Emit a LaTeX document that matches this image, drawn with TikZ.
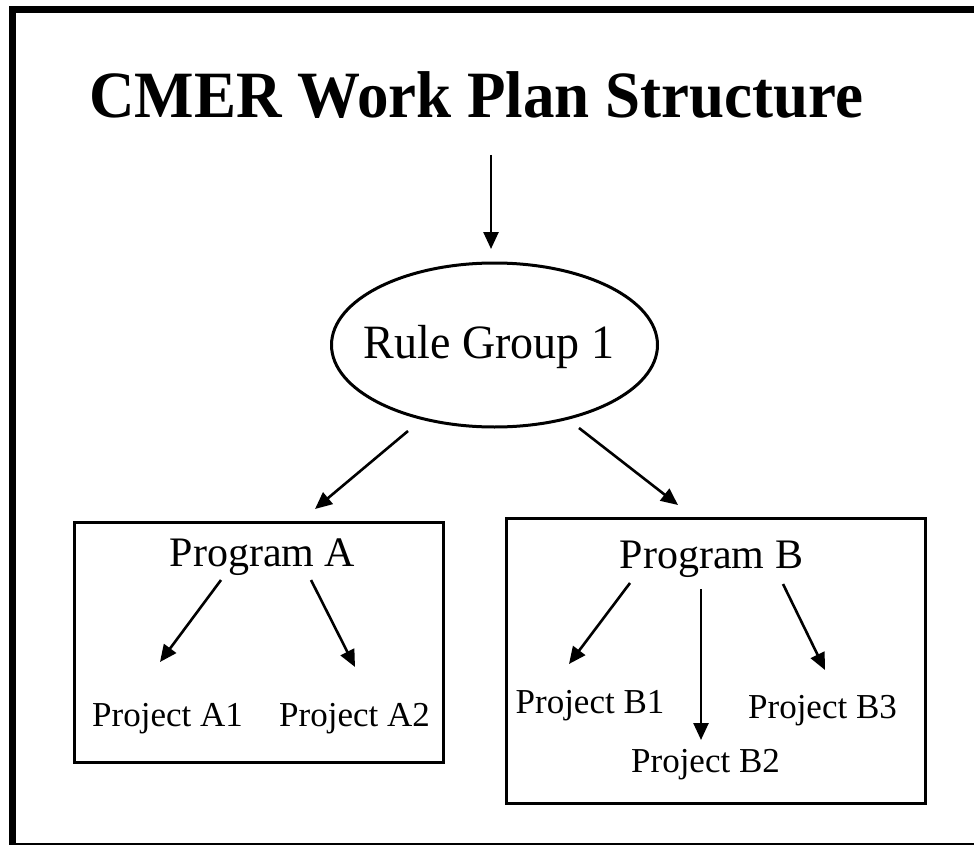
\documentclass[tikz,border=0pt]{standalone}
\usepackage{fontspec}
\setmainfont{Liberation Serif}
\usetikzlibrary{arrows.meta,shapes.geometric}
\tikzset{
  conn/.style={line width=2.6pt,-{Triangle[length=17pt,width=15pt]}},
  boxframe/.style={draw,line width=3pt},
  lbl/.style={anchor=base,inner sep=0pt},
}
\begin{document}
\begin{tikzpicture}[x=1pt,y=-1pt]
\useasboundingbox (0,0) rectangle (974,845);
\fill[white] (0,0) rectangle (974,845);
% outer frame
\fill[black] (9,6) rectangle (974,13);
\fill[black] (9,6) rectangle (16,845);
\draw[line width=2pt] (9,844) -- (974,844);
% title
\node[lbl,font=\fontsize{63}{70}\selectfont\bfseries,yscale=1.05] (title) at (476.5,118) {CMER Work Plan Structure};
% rule group
\node[draw,ellipse,line width=3pt,minimum width=326pt,minimum height=164pt,inner sep=0pt] (rg) at (494.5,345) {};
\node[lbl,font=\fontsize{46}{50}\selectfont,yscale=1.04] (rgt) at (489,358) {Rule Group 1};
% boxes
\node[boxframe,minimum width=369pt,minimum height=240pt,inner sep=0pt] (boxA) at (258.5,642) {};
\node[boxframe,minimum width=419pt,minimum height=285pt,inner sep=0pt] (boxB) at (715.5,660.5) {};
% programs
\node[lbl,font=\fontsize{42}{46}\selectfont] (pa) at (262.5,566) {Program A};
\node[lbl,font=\fontsize{42}{46}\selectfont] (pb) at (711.5,568) {Program B};
% projects
\node[lbl,font=\fontsize{35}{40}\selectfont] (a1) at (167.5,726) {Project A1};
\node[lbl,font=\fontsize{35}{40}\selectfont] (a2) at (354.5,726) {Project A2};
\node[lbl,font=\fontsize{35}{40}\selectfont] (b1) at (590,713) {Project B1};
\node[lbl,font=\fontsize{35}{40}\selectfont] (b3) at (822.5,718) {Project B3};
\node[lbl,font=\fontsize{35}{40}\selectfont] (b2) at (705.5,772) {Project B2};
% connector end points
\coordinate (t0) at (491,155);
\coordinate (t1) at (491,249);
\coordinate (l0) at (408,431);
\coordinate (l1) at (315,509);
\coordinate (r0) at (579,428);
\coordinate (r1) at (678,505);
\coordinate (pa0) at (221,580);
\coordinate (pa1) at (160,662);
\coordinate (pa2) at (311,580);
\coordinate (pa3) at (355,667);
\coordinate (pb0) at (630,583);
\coordinate (pb1) at (569,664);
\coordinate (pb2) at (701,589);
\coordinate (pb3) at (701,740);
\coordinate (pb4) at (783,584);
\coordinate (pb5) at (825,670);
% connectors
\draw[conn] (t0) -- (t1);
\draw[conn] (l0) -- (l1);
\draw[conn] (r0) -- (r1);
\draw[conn] (pa0) -- (pa1);
\draw[conn] (pa2) -- (pa3);
\draw[conn] (pb0) -- (pb1);
\draw[conn] (pb2) -- (pb3);
\draw[conn] (pb4) -- (pb5);
\end{tikzpicture}
\end{document}
